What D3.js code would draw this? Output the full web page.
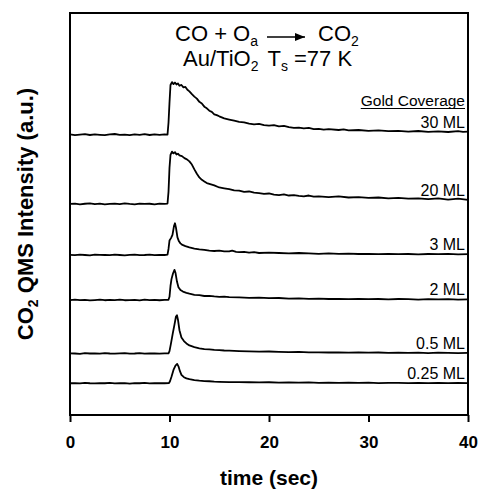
<!DOCTYPE html>
<html>
<head>
<meta charset="utf-8">
<script src="https://cdn.jsdelivr.net/npm/d3@7"></script>
<style>
  body { margin: 0; background: #fff; }
  svg { display: block; font-family: "Liberation Sans", Arial, sans-serif; }
</style>
</head>
<body>
<svg id="chart" width="479" height="490"></svg>
<script>
// coverage labels, top to bottom
const coverages = ['30 ML', '20 ML', '3 ML', '2 ML', '0.5 ML', '0.25 ML'];
// vertical offset of each trace (a.u.)
const offsets = [69.7, 52.5, 39.8, 28.6, 15.3, 7.9];
const xTicks = [0, 10, 20, 30, 40];

// pre-dose baseline, shared times, one row of readings per trace
const preTimes = [0, 0.5, 1, 1.5, 2, 2.5, 3, 3.5, 4, 4.5, 5, 5.5, 6, 6.5, 7, 7.5, 8, 8.5, 9, 9.5];
const preValues = [
  [0.1, -0.1, 0.05, 0.15, -0.05, 0.1, 0, -0.1, 0.1, 0.2, 0, 0.05, -0.1, 0.1, 0, 0.15, -0.05, 0.1, 0, 0.1],
  [0, 0.1, -0.1, 0.05, 0.15, -0.05, 0.1, -0.1, 0, 0.1, -0.05, 0.15, 0, -0.1, 0.1, 0, 0.05, -0.1, 0.1, 0],
  [0.05, -0.05, 0.1, 0, -0.1, 0.1, 0.05, 0, -0.05, 0.1, 0, -0.1, 0.05, 0.1, -0.05, 0, 0.1, -0.05, 0.05, 0],
  [-0.05, 0.1, 0, 0.05, -0.1, 0, 0.1, -0.05, 0.05, 0, 0.1, -0.05, 0, 0.05, -0.1, 0.1, 0, 0.05, -0.05, 0.05],
  [0.05, 0, -0.1, 0.1, 0, 0.05, -0.05, 0.1, 0, -0.05, 0.05, 0.1, -0.05, 0, 0.1, -0.05, 0.05, 0, -0.05, 0.05],
  [0, 0.05, -0.05, 0.1, 0, -0.05, 0.05, 0, 0.1, -0.05, 0, 0.05, -0.1, 0.05, 0, 0.1, -0.05, 0, 0.05, 0]
];

// CO2 signal above baseline after dosing, [time (s), intensity (a.u.)]
const trace30 = [[9.8,0.05],[9.9,3],[10.0,8],[10.1,12.4],[10.25,13.1],[10.4,12.6],[10.55,13.0],[10.7,12.5],[10.85,12.8],[11.0,12.2],[11.2,12.4],[11.4,11.8],[11.6,11.9],[11.8,11.2],[12.0,10.8],[12.25,10.1],[12.5,9.5],[12.75,9.0],[13.0,8.2],[13.25,7.8],[13.5,7.0],[13.75,6.6],[14.0,6.0],[14.25,5.7],[14.5,5.1],[14.75,4.9],[15,4.6],[15.5,4.1],[16,3.8],[16.5,3.5],[17,3.2],[17.5,3.1],[18,2.8],[18.5,2.6],[19,2.7],[19.5,2.4],[20,2.3],[20.5,2.4],[21,2.1],[21.5,2.2],[22,1.9],[22.5,1.7],[23,1.8],[23.5,1.6],[24,1.7],[24.5,1.4],[25,1.5],[25.5,1.3],[26,1.4],[27,1.2],[27.5,1.35],[28,1.1],[29,1.2],[30,1.0],[31,1.1],[32,0.9],[33,1.0],[34,0.8],[35,0.95],[36,0.75],[37,0.85],[38,0.7],[39,0.9],[39.5,0.75],[40,0.8]];
const trace20 = [[9.8,0.1],[9.9,3],[10.0,9],[10.1,12.2],[10.25,13.0],[10.4,12.6],[10.55,12.9],[10.7,12.3],[10.85,12.5],[11.0,12.1],[11.25,11.9],[11.5,11.4],[11.75,11.1],[12.0,10.6],[12.25,9.8],[12.5,8.6],[12.75,7.5],[13.0,6.6],[13.25,6.0],[13.5,5.6],[13.75,5.2],[14.0,5.0],[14.5,4.6],[15,4.1],[15.5,3.9],[16,3.7],[16.5,3.4],[17,3.3],[17.5,3.0],[18,3.1],[18.5,2.8],[19,2.7],[19.5,2.5],[20,2.6],[20.5,2.3],[21,2.2],[21.5,2.4],[22,2.1],[22.5,2.2],[23,2.0],[23.5,1.9],[24,2.1],[24.5,1.8],[25,1.9],[26,1.7],[27,1.9],[28,1.6],[29,1.7],[30,1.5],[31,1.6],[32,1.4],[33,1.5],[34,1.3],[35,1.4],[36,1.2],[37,1.4],[38,1.1],[39,1.3],[40,1.0]];
const trace3 = [[9.8,0.1],[9.9,1.5],[10.0,3.6],[10.15,4.2],[10.3,5.0],[10.45,7.2],[10.55,7.9],[10.65,6.8],[10.8,4.4],[10.95,3.4],[11.1,2.9],[11.3,2.5],[11.6,2.2],[12.0,1.9],[12.5,1.6],[13,1.4],[13.5,1.3],[14,1.1],[14.5,1.0],[15,1.1],[15.5,0.9],[16,0.9],[16.3,1.1],[16.7,0.8],[17,0.7],[17.5,0.8],[18,0.6],[18.5,0.7],[19,0.5],[20,0.6],[21,0.5],[22,0.4],[23,0.5],[24,0.4],[25,0.3],[26,0.4],[27,0.3],[28,0.35],[29,0.25],[30,0.3],[31,0.2],[32,0.3],[33,0.2],[34,0.25],[35,0.15],[36,0.25],[37,0.2],[38,0.3],[39,0.15],[40,0.2]];
const trace2 = [[9.9,0.05],[10.0,0.8],[10.1,3.5],[10.2,5.2],[10.35,6.6],[10.5,7.5],[10.6,6.8],[10.75,4.6],[10.9,3.2],[11.1,2.5],[11.35,2.1],[11.7,1.8],[12.0,1.6],[12.5,1.3],[13,1.2],[13.5,1.0],[14,1.05],[14.5,0.9],[15,0.8],[15.5,0.85],[16,0.7],[17,0.65],[18,0.55],[19,0.6],[20,0.45],[21,0.5],[22,0.35],[23,0.4],[24,0.3],[25,0.35],[26,0.25],[27,0.3],[28,0.2],[29,0.3],[30,0.2],[31,0.25],[32,0.15],[33,0.25],[34,0.2],[35,0.1],[36,0.2],[37,0.15],[38,0.2],[39,0.1],[40,0.15]];
const trace05 = [[9.9,0.05],[10.0,0.6],[10.15,2.5],[10.33,5.0],[10.5,7.2],[10.65,9.2],[10.75,9.5],[10.85,8.4],[11.0,5.8],[11.2,4.0],[11.45,3.1],[11.7,2.5],[12.0,2.0],[12.5,1.6],[13,1.3],[13.5,1.1],[14,1.0],[14.5,0.9],[15,0.85],[15.5,0.75],[16,0.7],[17,0.6],[18,0.55],[19,0.45],[20,0.5],[21,0.4],[22,0.35],[23,0.4],[24,0.3],[25,0.3],[26,0.25],[27,0.3],[28,0.2],[29,0.25],[30,0.2],[31,0.25],[32,0.15],[33,0.2],[34,0.15],[35,0.2],[36,0.1],[37,0.2],[38,0.15],[39,0.1],[40,0.15]];
const trace025 = [[9.95,0.05],[10.05,0.5],[10.2,1.6],[10.4,3.3],[10.6,4.4],[10.77,4.8],[10.9,4.2],[11.05,3.0],[11.2,2.1],[11.45,1.5],[11.7,1.2],[12.0,1.0],[12.5,0.8],[13,0.65],[13.5,0.55],[14,0.5],[14.5,0.4],[15,0.35],[16,0.3],[17,0.3],[18,0.25],[19,0.2],[20,0.25],[21,0.15],[22,0.2],[23,0.15],[24,0.2],[25,0.1],[26,0.15],[27,0.1],[28,0.15],[29,0.1],[30,0.15],[31,0.05],[32,0.1],[33,0.1],[34,0.05],[35,0.1],[36,0.05],[37,0.1],[38,0.05],[39,0.1],[40,0.05]];
const traces = [trace30, trace20, trace3, trace2, trace05, trace025];

const svg = d3.select('#chart');
const plotLeft = 70, plotRight = 468, plotTop = 13, plotBottom = 415;

const x = d3.scaleLinear().domain([0, 40]).range([plotLeft, plotRight]);
const y = d3.scaleLinear().domain([0, 100]).range([plotBottom, plotTop]);

// frame
svg.append('rect')
  .attr('x', plotLeft).attr('y', plotTop)
  .attr('width', plotRight - plotLeft).attr('height', plotBottom - plotTop)
  .attr('fill', 'none').attr('stroke', '#000').attr('stroke-width', 2);

// x axis
const xAxis = svg.append('g')
  .attr('transform', `translate(0,${plotBottom})`)
  .call(d3.axisBottom(x).tickValues(xTicks).tickSize(7).tickPadding(14));
xAxis.select('.domain').remove();
xAxis.selectAll('line').attr('stroke', '#000').attr('stroke-width', 2);
xAxis.selectAll('text')
  .attr('fill', '#000')
  .style('font-family', '"Liberation Sans", Arial, sans-serif')
  .style('font-size', '17px')
  .style('font-weight', 'bold');

// traces
const line = d3.line()
  .x(d => x(d[0]))
  .y(d => y(d[1]));

traces.forEach((tr, i) => {
  const pts = preTimes.map((t, j) => [t, preValues[i][j]]).concat(tr)
    .map(d => [d[0], d[1] + offsets[i]]);
  svg.append('path')
    .datum(pts)
    .attr('d', line)
    .attr('fill', 'none')
    .attr('stroke', '#000')
    .attr('stroke-width', 1.8)
    .attr('stroke-linejoin', 'round');

  const last = tr[tr.length - 1];
  svg.append('text')
    .attr('x', plotRight - 3)
    .attr('y', y(offsets[i] + last[1]) - 4)
    .attr('text-anchor', 'end')
    .style('font-size', '16px')
    .text(coverages[i]);
});

// legend heading
const head = svg.append('text')
  .attr('x', plotRight - 3)
  .attr('y', 105.5)
  .attr('text-anchor', 'end')
  .style('font-size', '15.5px')
  .text('Gold Coverage');
const headLen = head.node().getComputedTextLength();
svg.append('line')
  .attr('x1', plotRight - 3 - headLen).attr('x2', plotRight - 3)
  .attr('y1', 108.5).attr('y2', 108.5)
  .attr('stroke', '#000').attr('stroke-width', 1.2);

// title, line 1: CO + Oa -> CO2
const t1 = svg.append('text').attr('x', 258).attr('y', 41)
  .attr('text-anchor', 'end').style('font-size', '22px');
t1.append('tspan').text('CO + O');
t1.append('tspan').attr('dy', 5).style('font-size', '14px').text('a');

svg.append('defs').append('marker')
  .attr('id', 'arrow')
  .attr('viewBox', '0 0 10 8')
  .attr('refX', 10).attr('refY', 4)
  .attr('markerWidth', 10).attr('markerHeight', 8)
  .attr('markerUnits', 'userSpaceOnUse')
  .attr('orient', 'auto')
  .append('path').attr('d', 'M0,0 L10,4 L0,8 Z').attr('fill', '#000');
svg.append('line')
  .attr('x1', 267).attr('x2', 305)
  .attr('y1', 37).attr('y2', 37)
  .attr('stroke', '#000').attr('stroke-width', 1.5)
  .attr('marker-end', 'url(#arrow)');

const t1b = svg.append('text').attr('x', 318).attr('y', 41).style('font-size', '22px');
t1b.append('tspan').text('CO');
t1b.append('tspan').attr('dy', 5).style('font-size', '14px').text('2');

// title, line 2: Au/TiO2  Ts =77 K
const t2 = svg.append('text').attr('x', 183).attr('y', 66).style('font-size', '22px');
t2.append('tspan').text('Au/TiO');
t2.append('tspan').attr('dy', 5).style('font-size', '14px').text('2');
t2.append('tspan').attr('dy', -5).attr('dx', 9).text('T');
t2.append('tspan').attr('dy', 5).style('font-size', '14px').text('s');
t2.append('tspan').attr('dy', -5).text(' =77 K');

// axis titles
svg.append('text')
  .attr('x', (plotLeft + plotRight) / 2)
  .attr('y', 485)
  .attr('text-anchor', 'middle')
  .style('font-size', '21px')
  .style('font-weight', 'bold')
  .text('time (sec)');

const yl = svg.append('text')
  .attr('transform', `translate(33,${(plotTop + plotBottom) / 2}) rotate(-90)`)
  .attr('text-anchor', 'middle')
  .style('font-size', '22px')
  .style('font-weight', 'bold');
yl.append('tspan').text('CO');
yl.append('tspan').attr('dy', 5).style('font-size', '14px').text('2');
yl.append('tspan').attr('dy', -5).text(' QMS Intensity (a.u.)');
</script>
</body>
</html>
